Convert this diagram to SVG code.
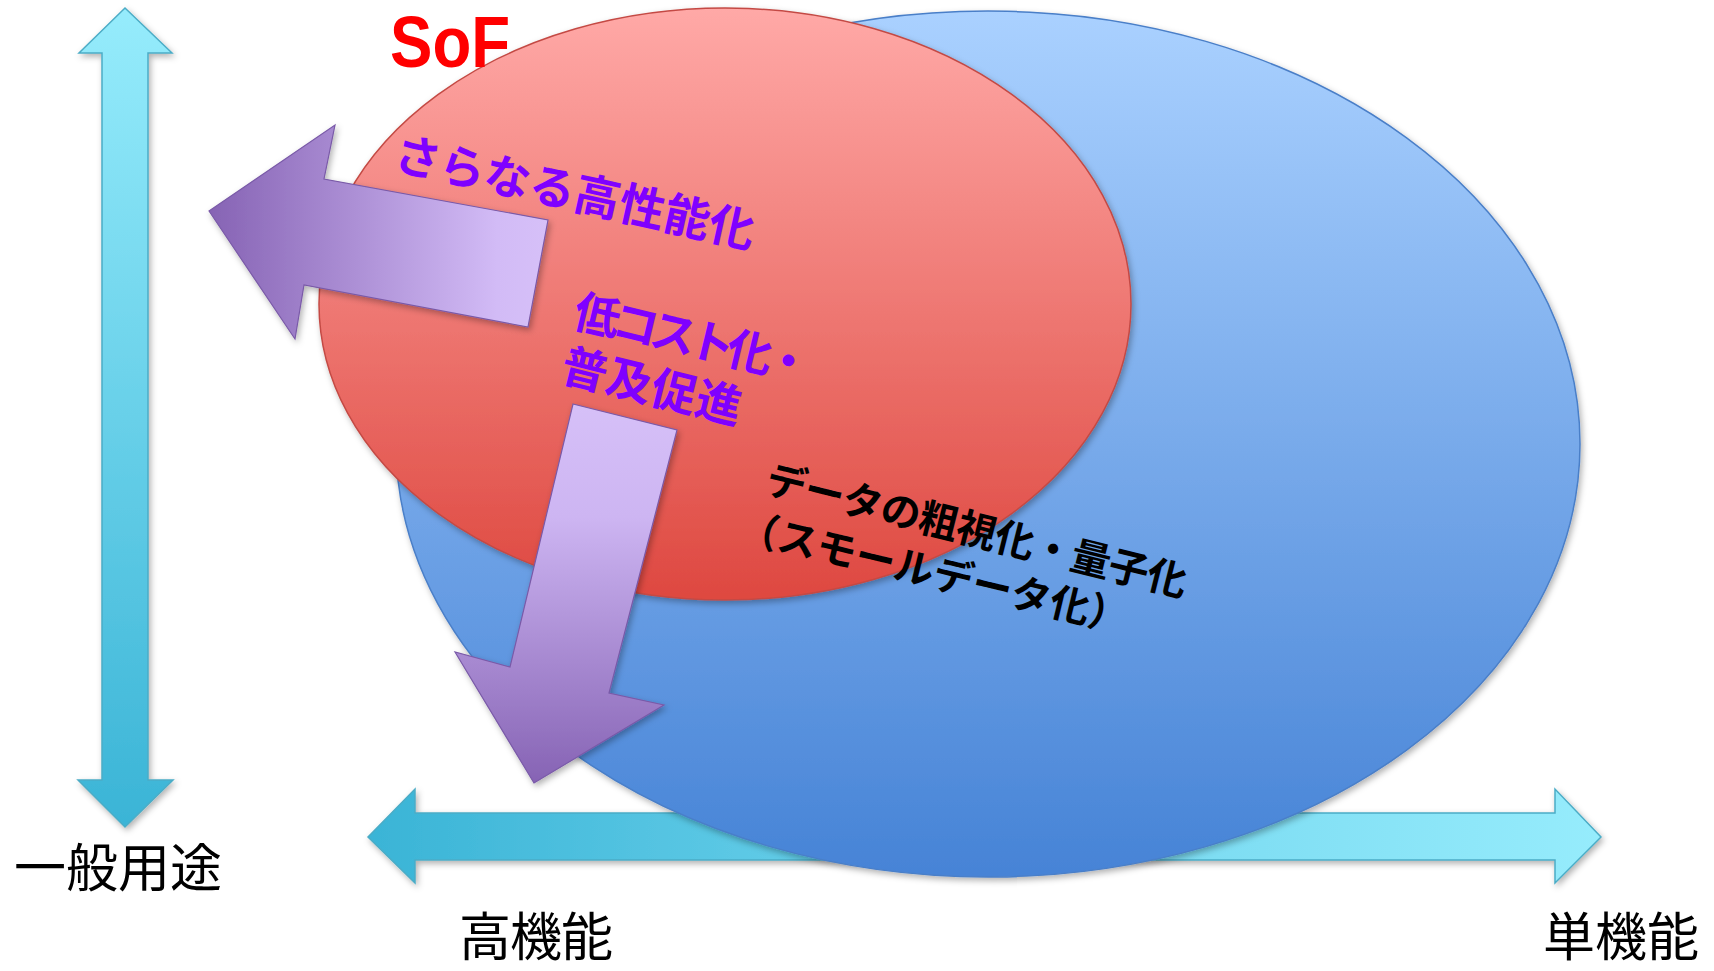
<svg xmlns="http://www.w3.org/2000/svg" width="1714" height="971" viewBox="0 0 1714 971">
<defs>
<linearGradient id="gV" x1="0" y1="0" x2="0" y2="1"><stop offset="0" stop-color="#96ECFC"/><stop offset="1" stop-color="#3AB4D6"/></linearGradient>
<linearGradient id="gH" gradientUnits="userSpaceOnUse" x1="368" y1="0" x2="1601" y2="0"><stop offset="0" stop-color="#3AB4D6"/><stop offset="0.45" stop-color="#6CD2EC"/><stop offset="1" stop-color="#96ECFC"/></linearGradient>
<linearGradient id="gBlue" x1="0" y1="0" x2="0" y2="1"><stop offset="0" stop-color="#AAD1FF"/><stop offset="1" stop-color="#4683D6"/></linearGradient>
<linearGradient id="gRed" x1="0" y1="0" x2="0" y2="1"><stop offset="0" stop-color="#FFA9A7"/><stop offset="1" stop-color="#DE4840"/></linearGradient>
<linearGradient id="gPL" gradientUnits="userSpaceOnUse" x1="209" y1="0" x2="548" y2="0"><stop offset="0" stop-color="#8663B4"/><stop offset="0.85" stop-color="#D2BBF6"/><stop offset="1" stop-color="#D6C0F8"/></linearGradient>
<linearGradient id="gPD" gradientUnits="userSpaceOnUse" x1="0" y1="404" x2="0" y2="783"><stop offset="0" stop-color="#D6C0F8"/><stop offset="0.3" stop-color="#CDB5F2"/><stop offset="1" stop-color="#8663B4"/></linearGradient>
<filter id="sh" x="-10%" y="-10%" width="120%" height="120%"><feDropShadow dx="2" dy="3" stdDeviation="3" flood-color="#000" flood-opacity="0.3"/></filter>
</defs>
<style>
.axis{stroke:#4BACC6;stroke-width:1.5;stroke-linejoin:miter}
.pa{stroke:#7A5AA8;stroke-width:1.2;stroke-linejoin:miter}
.jp{font-family:"Noto Sans CJK JP","Noto Sans CJK SC",sans-serif}
.pur{fill:#7F00FF;font-weight:bold;font-size:46px}
.blk{fill:#000;font-weight:bold;font-size:40px}
.lab{fill:#000;font-size:52px}
</style>
<g id="axis-vertical"><polygon class="axis" fill="url(#gV)" filter="url(#sh)" points="125,8 172,53 148,53 148,780 173,780 125,827 78,780 102,780 102,53 79,53"/></g>
<g id="axis-horizontal"><polygon class="axis" fill="url(#gH)" filter="url(#sh)" points="368,837 415,789 415,813 1555,813 1555,789 1601,837 1555,883 1555,860 415,860 415,883"/></g>
<g id="blue-ellipse"><ellipse cx="988" cy="444" rx="592" ry="433" fill="url(#gBlue)" stroke="#4A7FC8" stroke-width="1.5" filter="url(#sh)"/></g>
<g id="red-ellipse"><ellipse cx="725" cy="304" rx="406" ry="296" fill="url(#gRed)" stroke="#C44A44" stroke-width="1.5" filter="url(#sh)"/></g>
<g id="sof-label"><text x="390" y="67" font-family="'Liberation Sans',sans-serif" font-weight="bold" font-size="72" fill="#FF0000" textLength="120" lengthAdjust="spacingAndGlyphs">SoF</text></g>
<g id="text-performance"><text class="jp pur" transform="translate(575,192) rotate(12.5)" x="0" y="17" text-anchor="middle">さらなる高性能化</text></g>
<g id="text-cost"><text class="jp pur" transform="translate(693,338) rotate(13.5)" x="0" y="17" text-anchor="middle" textLength="242">低コスト化・</text><text class="jp pur" transform="translate(652,386) rotate(14)" x="0" y="17" text-anchor="middle">普及促進</text></g>
<g id="text-data"><text class="jp blk" transform="translate(977,530) rotate(14)" x="0" y="15" text-anchor="middle" textLength="432">データの粗視化・量子化</text><text class="jp blk" transform="translate(934,572) rotate(13.5)" x="0" y="15" text-anchor="middle">（スモールデータ化）</text></g>
<g id="connectors">
<polygon class="pa" fill="url(#gPL)" filter="url(#sh)" points="209,211 335,125 324,179 548,220 528,327 304,285 295,339"/>
<polygon class="pa" fill="url(#gPD)" filter="url(#sh)" points="573,404 677,430 609,693 664,705 534,783 455,652 510,667"/>
</g>
<g id="label-general"><text class="jp lab" x="14" y="887" textLength="208">一般用途</text></g>
<g id="label-high"><text class="jp lab" x="459" y="956" font-size="50" textLength="154">高機能</text></g>
<g id="label-single"><text class="jp lab" x="1543" y="956" font-size="50" textLength="156">単機能</text></g>
</svg>
